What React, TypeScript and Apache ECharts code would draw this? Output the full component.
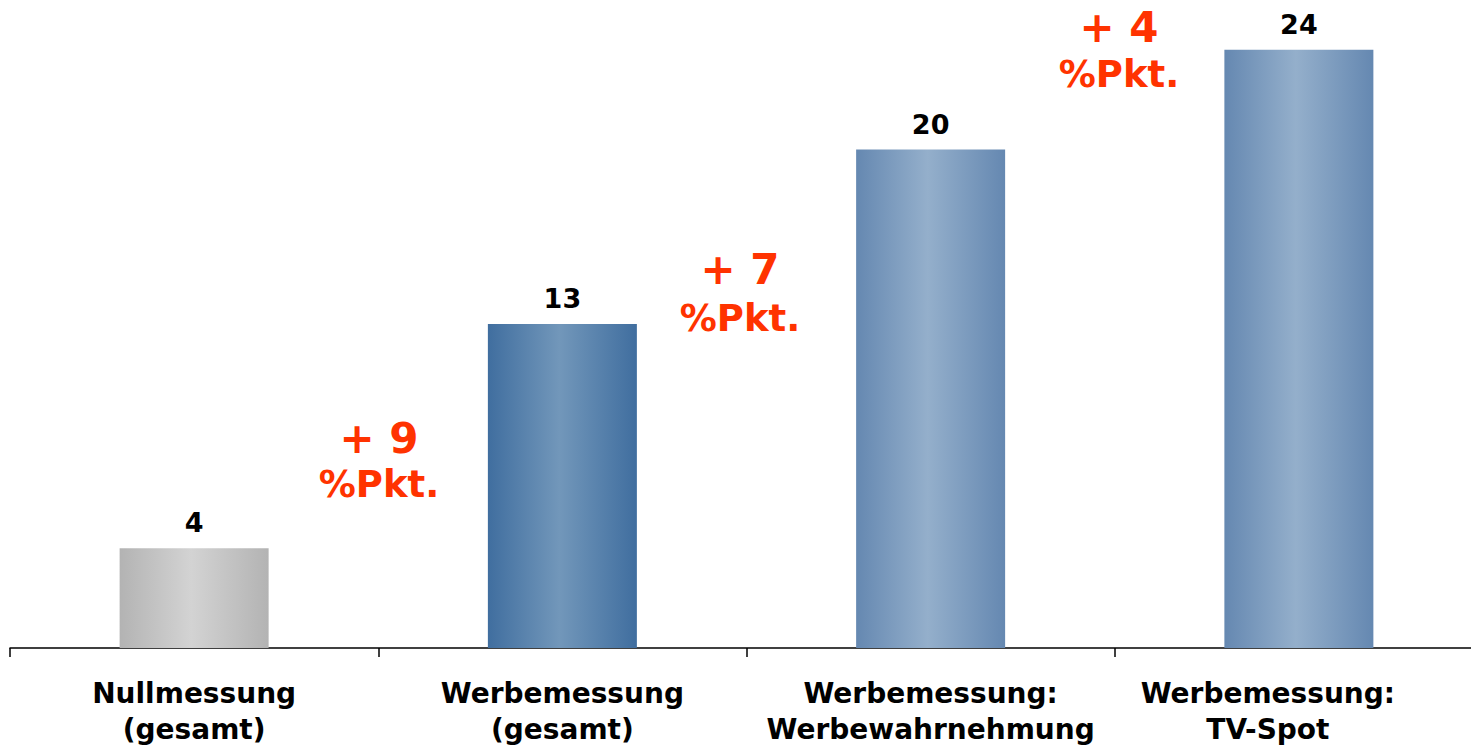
import React, { useEffect, useRef } from "react";
import * as echarts from "echarts";

// Categories (two-line axis labels) and their values in percent
const categories = [
  "Nullmessung\n(gesamt)",
  "Werbemessung\n(gesamt)",
  "Werbemessung:\nWerbewahrnehmung",
  "Werbemessung:\nTV-Spot",
];
const values = [4, 13, 20, 24];

// Horizontal gradient per bar: [edge, centre]
const barShades: [string, string][] = [
  ["#b3b3b3", "#d3d3d3"],
  ["#406e9f", "#7297ba"],
  ["#6588b1", "#94afcb"],
  ["#6588b1", "#94afcb"],
];

// Horizontal nudge (px) of each axis label; the last one is pulled in from the edge
const labelNudge = [0, 0, 0, -31];

// Increase annotations, placed between neighbouring bars
const deltaUnit = "%Pkt.";
const deltaPositions = [
  { x: 379, y: 438, y2: 484 },
  { x: 740, y: 269, y2: 318 },
  { x: 1119, y: 27, y2: 74 },
];

const RED = "#ff3300";

export default function App() {
  const ref = useRef<HTMLDivElement>(null);

  useEffect(() => {
    if (!ref.current) return;
    const chart = echarts.init(ref.current, null, { renderer: "svg" });

    const deltas = values.slice(1).map((v, i) => v - values[i]);

    const graphic: any[] = [];
    deltas.forEach((d, i) => {
      const p = deltaPositions[i];
      graphic.push({
        type: "text",
        x: p.x,
        y: p.y,
        style: {
          text: `+ ${d}`,
          fill: RED,
          font: 'bold 42px "DejaVu Sans"',
          align: "center",
          verticalAlign: "middle",
        },
      });
      graphic.push({
        type: "text",
        x: p.x,
        y: p.y2,
        style: {
          text: deltaUnit,
          fill: RED,
          font: 'bold 37px "DejaVu Sans"',
          align: "center",
          verticalAlign: "middle",
        },
      });
    });

    const categoryData = categories.map((c, i) => {
      const n = labelNudge[i];
      return {
        value: c,
        textStyle: {
          padding: n < 0 ? [0, -2 * n, 0, 0] : [0, 0, 0, 2 * n],
        },
      };
    });

    chart.setOption({
      animation: false,
      grid: { left: 10, right: 7, top: 0, bottom: 97, containLabel: false },
      xAxis: {
        type: "category",
        data: categoryData,
        boundaryGap: true,
        axisLine: { show: true, lineStyle: { color: "#000", width: 1.5 } },
        axisTick: {
          show: true,
          interval: 0,
          length: 9,
          lineStyle: { color: "#000", width: 1.5 },
        },
        axisLabel: {
          interval: 0,
          margin: 27,
          color: "#000",
          fontFamily: "DejaVu Sans",
          fontWeight: "bold",
          fontSize: 28,
          lineHeight: 36,
        },
      },
      yAxis: {
        type: "value",
        min: 0,
        max: 26,
        show: false,
        splitLine: { show: false },
      },
      series: [
        {
          type: "bar",
          barWidth: 149,
          data: values.map((v, i) => ({
            value: v,
            itemStyle: {
              color: new echarts.graphic.LinearGradient(0, 0, 1, 0, [
                { offset: 0, color: barShades[i][0] },
                { offset: 0.48, color: barShades[i][1] },
                { offset: 1, color: barShades[i][0] },
              ]),
            },
          })),
          label: {
            show: true,
            position: "top",
            distance: 12,
            color: "#000",
            fontFamily: "DejaVu Sans",
            fontWeight: "bold",
            fontSize: 27,
          },
        },
      ],
      graphic,
    });

    return () => chart.dispose();
  }, []);

  return (
    <div
      style={{
        position: "absolute",
        left: 0,
        top: 0,
        width: 1471,
        height: 747,
        overflow: "hidden",
        background: "#fff",
      }}
    >
      <div ref={ref} style={{ width: 1490, height: 747 }} />
    </div>
  );
}
